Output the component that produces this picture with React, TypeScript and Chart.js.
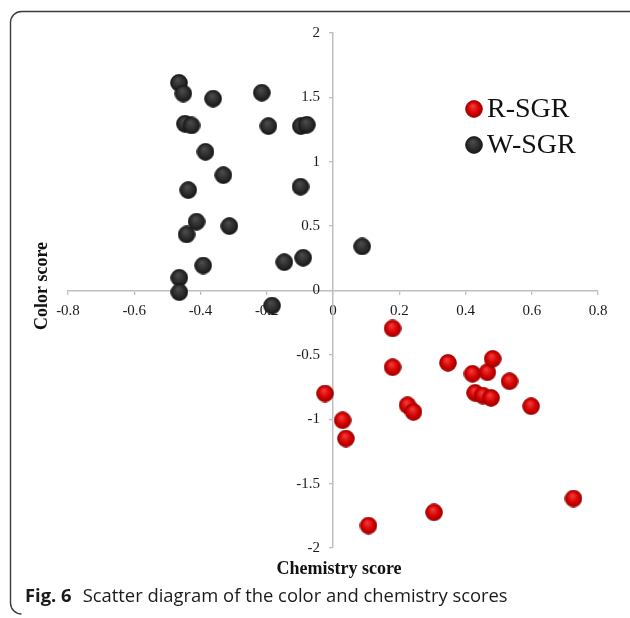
import React, { useEffect, useRef } from 'react';
import { Chart, registerables } from 'chart.js';

Chart.register(...registerables);

// ---- data ----
const seriesNames = ['R-SGR', 'W-SGR'];

const rSgrX = [0.18, 0.18, 0.347, 0.421, 0.466, 0.482, 0.533, 0.429, 0.452, 0.477, 0.598, -0.024, 0.225, 0.243, 0.029, 0.039, 0.107, 0.305, 0.726];
const rSgrY = [-0.295, -0.596, -0.562, -0.647, -0.635, -0.531, -0.705, -0.795, -0.816, -0.834, -0.899, -0.8, -0.891, -0.943, -1.008, -1.15, -1.826, -1.723, -1.616];

const wSgrX = [-0.465, -0.452, -0.362, -0.215, -0.447, -0.427, -0.195, -0.097, -0.079, -0.385, -0.331, -0.437, -0.098, -0.412, -0.313, -0.442, -0.392, -0.147, -0.09, -0.464, -0.464, -0.184, 0.088];
const wSgrY = [1.613, 1.53, 1.49, 1.536, 1.295, 1.282, 1.277, 1.277, 1.287, 1.077, 0.896, 0.78, 0.806, 0.534, 0.5, 0.435, 0.194, 0.22, 0.254, 0.099, -0.013, -0.117, 0.342];

const xTickValues = [-0.8, -0.6, -0.4, -0.2, 0, 0.2, 0.4, 0.6, 0.8];
const yTickValues = [-2, -1.5, -1, -0.5, 0, 0.5, 1, 1.5, 2];

const xTitle = 'Chemistry score';
const yTitle = 'Color score';
const captionBold = 'Fig. 6';
const captionText = 'Scatter diagram of the color and chemistry scores';

const SERIF = '"Liberation Serif", "Times New Roman", serif';
const SANS = '"Open Sans", "Noto Sans", sans-serif';

function sphere(base: string, light: string, dark: string, size: number) {
  const c = document.createElement('canvas');
  c.width = size;
  c.height = size;
  const g = c.getContext('2d')!;
  const r = size / 2;
  const grad = g.createRadialGradient(r * 0.85, r * 0.65, r * 0.05, r, r, r);
  grad.addColorStop(0, light);
  grad.addColorStop(0.6, base);
  grad.addColorStop(1, dark);
  g.fillStyle = grad;
  g.beginPath();
  g.arc(r, r, r - 0.6, 0, Math.PI * 2);
  g.fill();
  g.strokeStyle = dark;
  g.lineWidth = 0.8;
  g.stroke();
  return c;
}

const fmt = (v: number) => String(Math.round(v * 10) / 10);

export default function App() {
  const ref = useRef<HTMLCanvasElement | null>(null);

  useEffect(() => {
    if (!ref.current) return;
    const redImg = sphere('#d30000', '#f43a3a', '#980000', 18);
    const blackImg = sphere('#2c2c2c', '#4c4c4c', '#141414', 18);

    // move the axes so they cross at the origin, keeping normal tick/label padding
    const crossAxes = {
      id: 'crossAxes',
      afterLayout(chart: any) {
        const xs = chart.scales.x;
        const ys = chart.scales.y;
        const px = Math.round(xs.getPixelForValue(0));
        const py = Math.round(ys.getPixelForValue(0));
        ys.left = 0;
        ys.right = px;
        ys.width = px;
        xs.top = py;
        xs.bottom = py + 40;
        xs.height = 40;
      },
    };

    const decor = {
      id: 'decor',
      beforeDraw(chart: any) {
        const ctx = chart.ctx;
        ctx.save();
        ctx.fillStyle = '#ffffff';
        ctx.fillRect(0, 0, chart.width, chart.height);
        ctx.restore();
      },
      afterDraw(chart: any) {
        const ctx = chart.ctx;
        ctx.save();
        // rounded frame
        ctx.strokeStyle = '#3a3a3a';
        ctx.lineWidth = 1.4;
        const x0 = 10.5, y0 = 11.5, x1 = 660, y1 = 614, rr = 11;
        ctx.beginPath();
        ctx.moveTo(x1, y0);
        ctx.lineTo(x0 + rr, y0);
        ctx.arcTo(x0, y0, x0, y0 + rr, rr);
        ctx.lineTo(x0, y1 - rr);
        ctx.arcTo(x0, y1, x0 + rr, y1, rr);
        ctx.stroke();

        // axis titles
        ctx.fillStyle = '#111111';
        ctx.font = `bold 18px ${SERIF}`;
        ctx.textAlign = 'center';
        ctx.textBaseline = 'middle';
        ctx.fillText(xTitle, 339, 569);
        ctx.save();
        ctx.translate(42, 286);
        ctx.rotate(-Math.PI / 2);
        ctx.fillText(yTitle, 0, 0);
        ctx.restore();

        // legend
        const imgs = [redImg, blackImg];
        const ys = [109, 145];
        ctx.font = `28px ${SERIF}`;
        ctx.textAlign = 'left';
        chart.data.datasets.forEach((ds: any, i: number) => {
          const img = imgs[i];
          ctx.drawImage(img, 474 - img.width / 2, ys[i] - img.height / 2);
          ctx.fillText(ds.label, 487, ys[i] + 1);
        });

        // caption
        ctx.textAlign = 'left';
        ctx.font = `bold 18.4px ${SANS}`;
        ctx.fillStyle = '#1a1a1a';
        ctx.fillText(captionBold, 25, 597);
        const w = ctx.measureText(captionBold).width;
        ctx.font = `18.4px ${SANS}`;
        ctx.fillText(captionText, 25 + w + 11, 597);
        ctx.restore();
      },
    };

    const chart = new Chart(ref.current, {
      type: 'scatter',
      data: {
        datasets: [
          {
            label: seriesNames[0],
            data: rSgrX.map((x, i) => ({ x, y: rSgrY[i] })),
            pointStyle: redImg as any,
            pointRadius: 9,
            pointHoverRadius: 9,
          },
          {
            label: seriesNames[1],
            data: wSgrX.map((x, i) => ({ x, y: wSgrY[i] })),
            pointStyle: blackImg as any,
            pointRadius: 9,
            pointHoverRadius: 9,
          },
        ],
      },
      options: {
        responsive: false,
        animation: false,
        events: [],
        layout: { padding: { left: 68, right: 32, top: 33, bottom: 70 } },
        plugins: {
          legend: { display: false },
          tooltip: { enabled: false },
        },
        scales: {
          x: {
            type: 'linear',
            position: 'bottom',
            min: -0.8,
            max: 0.8,
            afterFit: (s: any) => { s.height = 0; },
            afterBuildTicks: (s: any) => { s.ticks = xTickValues.map((v) => ({ value: v })); },
            ticks: {
              callback: (v: any) => fmt(Number(v)),
              font: { family: SERIF, size: 15 },
              color: '#1a1a1a',
              padding: 7,
              maxRotation: 0,
              autoSkip: false,
            },
            grid: { display: true, drawOnChartArea: false, drawTicks: true, tickLength: 4, color: '#bfbfbf', lineWidth: 1.3 },
            border: { display: true, color: '#bfbfbf', width: 1.5 },
          },
          y: {
            type: 'linear',
            position: 'left',
            min: -2,
            max: 2,
            afterFit: (s: any) => { s.width = 0; },
            afterBuildTicks: (s: any) => { s.ticks = yTickValues.map((v) => ({ value: v })); },
            ticks: {
              callback: (v: any) => fmt(Number(v)),
              font: { family: SERIF, size: 15 },
              color: '#1a1a1a',
              padding: 9,
              autoSkip: false,
            },
            grid: { display: true, drawOnChartArea: false, drawTicks: true, tickLength: 4, color: '#bfbfbf', lineWidth: 1.3 },
            border: { display: true, color: '#bfbfbf', width: 1.5 },
          },
        },
      },
      plugins: [crossAxes, decor],
    });
    return () => chart.destroy();
  }, []);

  return (
    <div style={{ position: 'absolute', left: 0, top: 0, width: 630, height: 618, background: '#fff' }}>
      <canvas ref={ref} width={630} height={618} style={{ display: 'block' }} />
    </div>
  );
}
